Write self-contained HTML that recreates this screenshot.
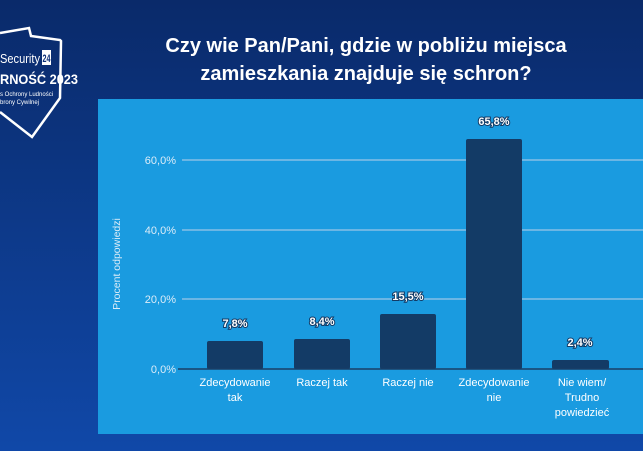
<!DOCTYPE html>
<html><head><meta charset="utf-8"><style>
body{margin:0;width:643px;height:451px;overflow:hidden;background:#0c2f78;font-family:"Liberation Sans",sans-serif;}
</style></head><body>
<svg width="643" height="451" xmlns="http://www.w3.org/2000/svg" style="position:absolute;left:0;top:0">
<defs><linearGradient id="bg" x1="0" y1="0" x2="0" y2="1"><stop offset="0" stop-color="#0a2a6a"/><stop offset="1" stop-color="#1048a8"/></linearGradient></defs>
<rect width="643" height="451" fill="url(#bg)"/>
<polyline points="0,33 29,28 31,36 60,40 61,41 60,98 32,137 0,112" fill="none" stroke="#fff" stroke-width="2.5"/>
<text x="0" y="63" fill="#fff" font-size="13" textLength="40" lengthAdjust="spacingAndGlyphs">Security</text>
<rect x="42" y="50" width="9" height="15" fill="#fff"/>
<text x="46.5" y="62" fill="#0c2f78" font-size="11" font-weight="bold" text-anchor="middle" textLength="8" lengthAdjust="spacingAndGlyphs">24</text>
<text x="0" y="84" fill="#fff" font-size="14" font-weight="bold" textLength="78" lengthAdjust="spacingAndGlyphs">RNOŚĆ 2023</text>
<text x="0" y="96" fill="#fff" font-size="6">s Ochrony Ludności</text>
<text x="0" y="104" fill="#fff" font-size="6">brony Cywilnej</text>
<text x="366" y="52" fill="#fff" font-size="20" font-weight="bold" text-anchor="middle">Czy wie Pan/Pani, gdzie w pobliżu miejsca</text>
<text x="366" y="80" fill="#fff" font-size="20" font-weight="bold" text-anchor="middle">zamieszkania znajduje się schron?</text>
<rect x="98" y="99" width="545" height="335" fill="#1a9be0"/>
<g stroke="#9cc7e6" stroke-width="1.2">
<line x1="182" y1="160" x2="643" y2="160"/><line x1="182" y1="230" x2="643" y2="230"/><line x1="182" y1="299" x2="643" y2="299"/>
</g>
<g fill="#dcecf8" font-size="11" text-anchor="end">
<text x="176" y="164">60,0%</text><text x="176" y="234">40,0%</text><text x="176" y="303">20,0%</text><text x="176" y="373">0,0%</text>
</g>
<text transform="translate(120,264) rotate(-90)" fill="#dcecf8" font-size="10.5" text-anchor="middle">Procent odpowiedzi</text>
<g fill="#133b66">
<rect x="207" y="341" width="56" height="28" rx="2"/>
<rect x="294" y="339" width="56" height="30" rx="2"/>
<rect x="380" y="314" width="56" height="55" rx="2"/>
<rect x="466" y="139" width="56" height="230" rx="2"/>
<rect x="552" y="360" width="57" height="9" rx="2"/>
</g>
<line x1="178" y1="369" x2="643" y2="369" stroke="#1a3e66" stroke-width="1.5"/>
<g fill="#fff" font-size="11" font-weight="bold" text-anchor="middle" stroke="#133b66" stroke-width="2" paint-order="stroke">
<text x="235" y="327">7,8%</text><text x="322" y="325">8,4%</text><text x="408" y="300">15,5%</text><text x="494" y="125">65,8%</text><text x="580" y="346">2,4%</text>
</g>
<g fill="#fff" font-size="11" text-anchor="middle">
<text x="235" y="386">Zdecydowanie</text><text x="235" y="401">tak</text>
<text x="322" y="386">Raczej tak</text>
<text x="408" y="386">Raczej nie</text>
<text x="494" y="386">Zdecydowanie</text><text x="494" y="401">nie</text>
<text x="582" y="386">Nie wiem/</text><text x="582" y="401">Trudno</text><text x="582" y="416">powiedzieć</text>
</g>
</svg>
</body></html>
